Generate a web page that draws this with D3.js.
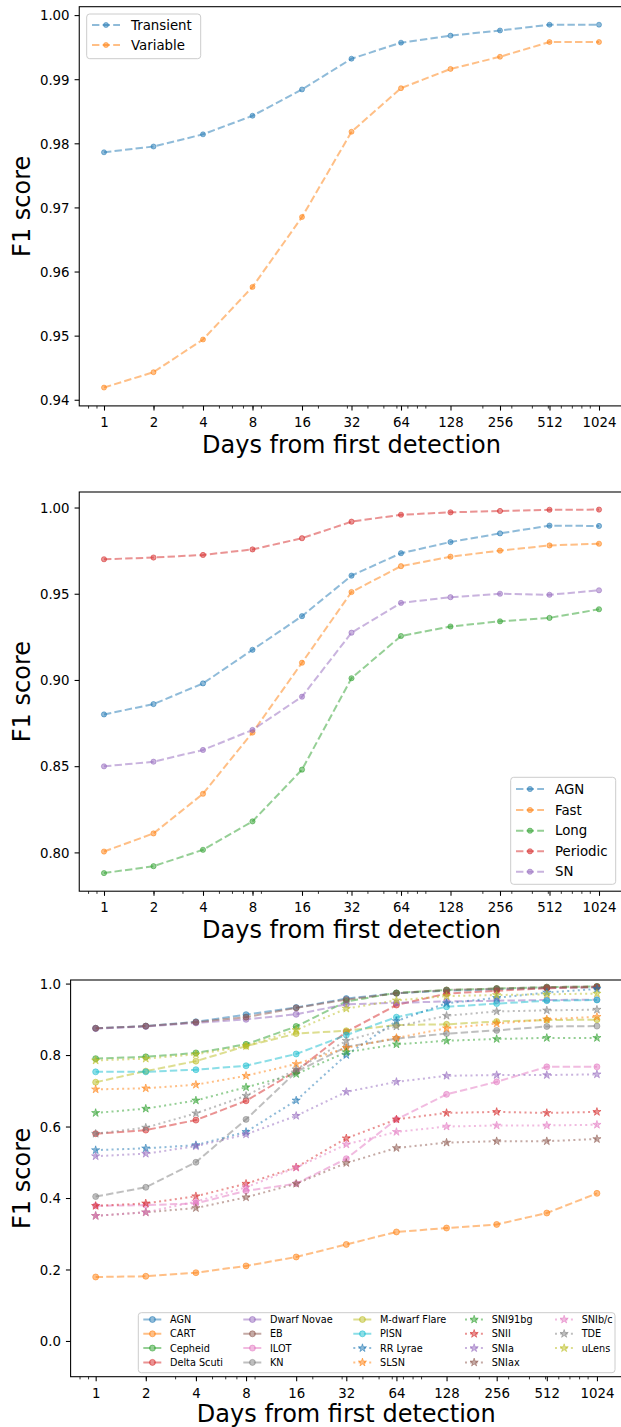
<!DOCTYPE html>
<html>
<head>
<meta charset="utf-8">
<script src="https://cdn.jsdelivr.net/npm/d3@7"></script>
<style>
  body { margin: 0; background: #fff; }
  svg { display: block; }
  text { font-family: "DejaVu Sans", sans-serif; fill: #000; }
</style>
</head>
<body>
<svg id="fig" width="621" height="1427"></svg>
<script>
// ---- shared x axis: days since first detection ----
const days = [1, 2, 4, 8, 16, 32, 64, 128, 256, 512, 1024];
const dayLabels = ["1", "2", "4", "8", "16", "32", "64", "128", "256", "512", "1024"];

// ---- top panel: transient vs variable ----
const coarseNames = ["Transient", "Variable"];
const transient = [0.9786, 0.9795, 0.9814, 0.9843, 0.9884, 0.9932, 0.9957, 0.9968, 0.9976, 0.9985, 0.9985];
const variable  = [0.9419, 0.9443, 0.9494, 0.9576, 0.9685, 0.9818, 0.9886, 0.9916, 0.9935, 0.9958, 0.9958];
const coarseTicks = [0.94, 0.95, 0.96, 0.97, 0.98, 0.99, 1.00];

// ---- middle panel: five groups ----
const midNames = ["AGN", "Fast", "Long", "Periodic", "SN"];
const agn      = [0.8800, 0.8860, 0.8980, 0.9175, 0.9370, 0.9605, 0.9735, 0.9800, 0.9850, 0.9895, 0.9893];
const fast     = [0.8005, 0.8110, 0.8340, 0.8695, 0.9100, 0.9510, 0.9660, 0.9715, 0.9750, 0.9780, 0.9790];
const long     = [0.7880, 0.7920, 0.8015, 0.8180, 0.8480, 0.9010, 0.9255, 0.9310, 0.9340, 0.9360, 0.9410];
const periodic = [0.9700, 0.9710, 0.9725, 0.9757, 0.9822, 0.9918, 0.9958, 0.9972, 0.9980, 0.9987, 0.9988];
const sn       = [0.8499, 0.8526, 0.8594, 0.8710, 0.8903, 0.9274, 0.9447, 0.9480, 0.9500, 0.9494, 0.9520];
const midTicks = [0.80, 0.85, 0.90, 0.95, 1.00];

// ---- bottom panel: nineteen classes ----
const fineNames = ["AGN", "CART", "Cepheid", "Delta Scuti", "Dwarf Novae", "EB", "ILOT", "KN",
  "M-dwarf Flare", "PISN", "RR Lyrae", "SLSN", "SNI91bg", "SNII", "SNIa", "SNIax", "SNIb/c", "TDE", "uLens"];
const fAGN        = [0.875, 0.881, 0.893, 0.913, 0.933, 0.958, 0.973, 0.980, 0.984, 0.988, 0.990];
const fCART       = [0.179, 0.181, 0.191, 0.210, 0.235, 0.270, 0.305, 0.316, 0.326, 0.358, 0.413];
const fCepheid    = [0.790, 0.795, 0.806, 0.830, 0.880, 0.950, 0.974, 0.982, 0.986, 0.990, 0.992];
const fDeltaScuti = [0.580, 0.590, 0.618, 0.672, 0.755, 0.865, 0.940, 0.972, 0.980, 0.987, 0.990];
const fDwarfNovae = [0.874, 0.880, 0.890, 0.900, 0.914, 0.942, 0.946, 0.950, 0.952, 0.954, 0.955];
const fEB         = [0.875, 0.881, 0.892, 0.906, 0.932, 0.955, 0.973, 0.982, 0.986, 0.990, 0.992];
const fILOT       = [0.378, 0.380, 0.385, 0.420, 0.440, 0.510, 0.620, 0.690, 0.725, 0.767, 0.767];
const fKN         = [0.404, 0.430, 0.500, 0.620, 0.753, 0.823, 0.846, 0.860, 0.869, 0.880, 0.881];
const fMdwarf     = [0.724, 0.755, 0.783, 0.825, 0.860, 0.868, 0.884, 0.886, 0.894, 0.898, 0.899];
const fPISN       = [0.753, 0.753, 0.759, 0.770, 0.803, 0.856, 0.906, 0.935, 0.944, 0.952, 0.954];
const fRRLyrae    = [0.534, 0.539, 0.548, 0.585, 0.673, 0.800, 0.895, 0.945, 0.960, 0.975, 0.985];
const fSLSN       = [0.704, 0.707, 0.717, 0.742, 0.775, 0.820, 0.848, 0.875, 0.888, 0.900, 0.907];
const fSNI91bg    = [0.638, 0.650, 0.673, 0.710, 0.747, 0.808, 0.830, 0.840, 0.845, 0.848, 0.848];
const fSNII       = [0.378, 0.385, 0.405, 0.440, 0.486, 0.567, 0.620, 0.638, 0.641, 0.638, 0.641];
const fSNIa       = [0.517, 0.524, 0.545, 0.578, 0.630, 0.697, 0.725, 0.742, 0.744, 0.744, 0.746];
const fSNIax      = [0.350, 0.360, 0.372, 0.402, 0.440, 0.498, 0.540, 0.555, 0.559, 0.559, 0.565];
const fSNIbc      = [0.350, 0.360, 0.390, 0.430, 0.485, 0.550, 0.585, 0.600, 0.603, 0.603, 0.605];
const fTDE        = [0.580, 0.597, 0.637, 0.686, 0.760, 0.840, 0.880, 0.910, 0.922, 0.925, 0.927];
const fuLens      = [0.785, 0.790, 0.802, 0.825, 0.870, 0.930, 0.953, 0.965, 0.968, 0.970, 0.972];
const fineTicks = [0.0, 0.2, 0.4, 0.6, 0.8, 1.0];

const tab10 = ["#1f77b4", "#ff7f0e", "#2ca02c", "#d62728", "#9467bd",
               "#8c564b", "#e377c2", "#7f7f7f", "#bcbd22", "#17becf"];

const coarseSeries = [transient, variable];
const midSeries = [agn, fast, long, periodic, sn];
const fineSeries = [fAGN, fCART, fCepheid, fDeltaScuti, fDwarfNovae, fEB, fILOT, fKN, fMdwarf, fPISN,
  fRRLyrae, fSLSN, fSNI91bg, fSNII, fSNIa, fSNIax, fSNIbc, fTDE, fuLens];

const svg = d3.select("#fig");
const DASH = "7.4,3.2";
const DOT = "2,3.3";
const TICK_FS = 13.33;
const LABEL_FS = 24;

// minor ticks of a base-10 log axis (2..9 per decade)
const minorTicks = [];
[0.1, 1, 10, 100, 1000].forEach(d => { for (let k = 2; k <= 9; k++) minorTicks.push(k * d); });

function starPath(r) {
  const pts = [];
  for (let i = 0; i < 10; i++) {
    const a = -Math.PI / 2 + i * Math.PI / 5;
    const rr = i % 2 === 0 ? r : r * 0.381966;
    pts.push([rr * Math.cos(a), rr * Math.sin(a)]);
  }
  return "M" + pts.map(p => p[0].toFixed(2) + "," + p[1].toFixed(2)).join("L") + "Z";
}

function drawMarker(g, kind, cx, cy, color, size) {
  if (kind === "star") {
    g.append("path").attr("d", starPath(size)).attr("transform", `translate(${cx},${cy})`)
      .attr("fill", color).attr("fill-opacity", 0.5)
      .attr("stroke", color).attr("stroke-opacity", 0.5).attr("stroke-width", 1);
  } else {
    g.append("circle").attr("cx", cx).attr("cy", cy).attr("r", size)
      .attr("fill", color).attr("fill-opacity", 0.5)
      .attr("stroke", color).attr("stroke-opacity", 0.5).attr("stroke-width", 1);
  }
}

function panel(cfg) {
  const { left, right, top, bottom, ydomain, yticks, yfmt, xlabelY } = cfg;
  const x = d3.scaleLog().domain([Math.pow(2, -0.5), Math.pow(2, 10.5)]).range([left, right]);
  const y = d3.scaleLinear().domain(ydomain).range([bottom, top]);
  const g = svg.append("g");

  // axes
  const xa = g.append("g").attr("transform", `translate(0,${bottom})`)
    .call(d3.axisBottom(x).tickValues(days).tickFormat((d, i) => dayLabels[i])
      .tickSizeInner(4.67).tickSizeOuter(0).tickPadding(6.9));
  const xm = g.append("g").attr("transform", `translate(0,${bottom})`)
    .call(d3.axisBottom(x).tickValues(minorTicks.filter(v => x(v) >= left && x(v) <= right))
      .tickFormat("").tickSizeInner(2.67).tickSizeOuter(0));
  const ya = g.append("g").attr("transform", `translate(${left},0)`)
    .call(d3.axisLeft(y).tickValues(yticks).tickFormat(yfmt)
      .tickSizeInner(4.67).tickSizeOuter(0).tickPadding(5));
  [xa, xm, ya].forEach(a => {
    a.select(".domain").remove();
    a.selectAll("line").attr("stroke", "#000").attr("stroke-width", 1.07);
    a.selectAll("text").attr("font-size", TICK_FS).attr("font-family", "DejaVu Sans, sans-serif");
  });
  xm.selectAll("line").attr("stroke-width", 0.8);
  ya.selectAll("text").attr("dy", "0.36em");

  g.append("rect").attr("x", left).attr("y", top).attr("width", right - left).attr("height", bottom - top)
    .attr("fill", "none").attr("stroke", "#000").attr("stroke-width", 1.07);

  // axis titles
  g.append("text").attr("x", (left + right) / 2).attr("y", xlabelY)
    .attr("text-anchor", "middle").attr("font-size", LABEL_FS).text("Days from first detection");
  g.append("text").attr("transform", `translate(29.5,${(top + bottom) / 2}) rotate(-90)`)
    .attr("text-anchor", "middle").attr("font-size", LABEL_FS).text("F1 score");

  return { g, x, y };
}

function drawSeries(p, values, color, dash, kind, size) {
  const line = d3.line().x((d, i) => p.x(days[i])).y(d => p.y(d));
  p.g.append("path").datum(values).attr("d", line)
    .attr("fill", "none").attr("stroke", color).attr("stroke-opacity", 0.5)
    .attr("stroke-width", 2).attr("stroke-dasharray", dash);
  const mg = p.g.append("g");
  values.forEach((v, i) => drawMarker(mg, kind, p.x(days[i]), p.y(v), color, size));
}

function legendBox(g, x0, y0, x1, y1) {
  g.append("rect").attr("x", x0).attr("y", y0).attr("width", x1 - x0).attr("height", y1 - y0)
    .attr("rx", 3).attr("fill", "#fff").attr("fill-opacity", 0.8)
    .attr("stroke", "#cccccc").attr("stroke-width", 1);
}

function legendEntry(g, lx, ly, len, tx, label, color, dash, kind, size, fs) {
  g.append("line").attr("x1", lx).attr("x2", lx + len).attr("y1", ly).attr("y2", ly)
    .attr("stroke", color).attr("stroke-opacity", 0.5).attr("stroke-width", 2)
    .attr("stroke-dasharray", dash);
  drawMarker(g, kind, lx + len / 2, ly, color, size);
  g.append("text").attr("x", tx).attr("y", ly).attr("dy", "0.36em").attr("font-size", fs).text(label);
}

// ---- top panel ----
const p1 = panel({ left: 79.25, right: 623.75, top: 6.7, bottom: 405.9,
  ydomain: [0.93904, 1.00131], yticks: coarseTicks, yfmt: d3.format(".2f"), xlabelY: 452.5 });
coarseSeries.forEach((s, i) => drawSeries(p1, s, tab10[i], DASH, "circle", 2.5));
{
  const lg = p1.g.append("g");
  legendBox(lg, 86.7, 14, 200.7, 58.7);
  const rows = [25, 45];
  coarseNames.forEach((n, i) => legendEntry(lg, 92, rows[i], 28, 131, n, tab10[i], DASH, "circle", 2.5, TICK_FS));
}

// ---- middle panel ----
const p2 = panel({ left: 79.25, right: 623.75, top: 492, bottom: 891.2,
  ydomain: [0.7775, 1.009], yticks: midTicks, yfmt: d3.format(".2f"), xlabelY: 937.8 });
midSeries.forEach((s, i) => drawSeries(p2, s, tab10[i], DASH, "circle", 2.6));
{
  const lg = p2.g.append("g");
  legendBox(lg, 510.7, 777.3, 615.7, 884.3);
  const rows = [789, 810, 830.7, 851.3, 871.7];
  midNames.forEach((n, i) => legendEntry(lg, 516, rows[i], 28, 555, n, tab10[i], DASH, "circle", 2.6, TICK_FS));
}

// ---- bottom panel ----
const p3 = panel({ left: 70.6, right: 622, top: 980, bottom: 1376.7,
  ydomain: [-0.1, 1.01], yticks: fineTicks, yfmt: d3.format(".1f"), xlabelY: 1421.5 });
fineSeries.forEach((s, i) => {
  const dotted = i >= 10;
  drawSeries(p3, s, tab10[i % 10], dotted ? DOT : DASH, dotted ? "star" : "circle", dotted ? 4.3 : 3);
});
{
  const lg = p3.g.append("g");
  legendBox(lg, 138.3, 1312.7, 615, 1372.7);
  const colX = [143.3, 243.3, 353.3, 465, 555];
  const rows = [1319.5, 1333.8, 1348.1, 1362.4];
  fineNames.forEach((n, i) => {
    const c = Math.floor(i / 4), r = i % 4;
    const dotted = i >= 10;
    legendEntry(lg, colX[c], rows[r], 18.3, colX[c] + 26.7, n, tab10[i % 10],
      dotted ? DOT : DASH, dotted ? "star" : "circle", dotted ? 4.3 : 3, 9.7);
  });
}
</script>
</body>
</html>
